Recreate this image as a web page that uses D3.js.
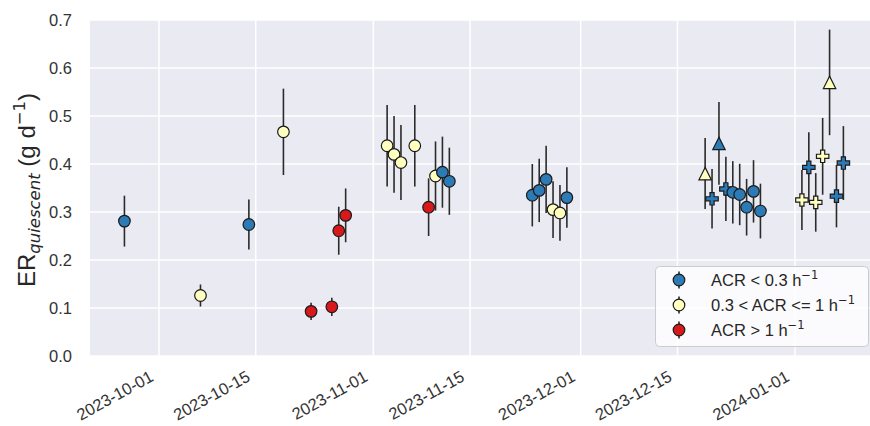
<!DOCTYPE html>
<html>
<head>
<meta charset="utf-8">
<script src="https://cdn.jsdelivr.net/npm/d3@7"></script>
<style>
  html, body { margin: 0; padding: 0; background: #fff; }
  svg { display: block; font-family: "Liberation Sans", Arial, sans-serif; }
</style>
</head>
<body>
<svg id="chart" width="870" height="426"></svg>
<script>
// ---------- data ----------
// ACR < 0.3 h^-1
const lowDates  = ["2023-09-26","2023-10-14","2023-11-11","2023-11-12","2023-11-24","2023-11-25","2023-11-26","2023-11-29",
                   "2023-12-20","2023-12-21","2023-12-22","2023-12-23","2023-12-24","2023-12-25","2023-12-26","2023-12-27",
                   "2024-01-03","2024-01-07","2024-01-08"];
const lowValues = [0.281,0.274,0.383,0.364,0.335,0.345,0.368,0.330,
                   0.3275,0.443,0.348,0.341,0.3365,0.310,0.343,0.302,
                   0.393,0.333,0.402];
const lowErrors = [0.053,0.052,0.074,0.070,0.065,0.066,0.070,0.063,
                   0.062,0.086,0.067,0.065,0.064,0.059,0.065,0.057,
                   0.073,0.065,0.077];
const lowShapes = ["o","o","o","o","o","o","o","o",
                   "P","^","P","o","o","o","o","o",
                   "P","P","P"];
// 0.3 < ACR <= 1 h^-1
const midDates  = ["2023-10-07","2023-10-19","2023-11-03","2023-11-04","2023-11-05","2023-11-07","2023-11-10","2023-11-27","2023-11-28",
                   "2023-12-19","2024-01-02","2024-01-04","2024-01-05","2024-01-06"];
const midValues = [0.126,0.467,0.438,0.420,0.403,0.438,0.375,0.305,0.298,
                   0.380,0.325,0.320,0.416,0.570];
const midErrors = [0.023,0.090,0.085,0.080,0.078,0.085,0.072,0.059,0.058,
                   0.074,0.0625,0.061,0.080,0.110];
const midShapes = ["o","o","o","o","o","o","o","o","o",
                   "^","P","P","P","^"];
// ACR > 1 h^-1
const highDates  = ["2023-10-23","2023-10-26","2023-10-27","2023-10-28","2023-11-09"];
const highValues = [0.093,0.1025,0.261,0.293,0.310];
const highErrors = [0.018,0.019,0.050,0.056,0.060];
const highShapes = ["o","o","o","o","o"];

const seriesNames  = ["ACR < 0.3 h", "0.3 < ACR <= 1 h", "ACR > 1 h"];
const seriesColors = ["#2c7bb6", "#ffffbf", "#d7191c"];

const xTickDates = ["2023-10-01","2023-10-15","2023-11-01","2023-11-15","2023-12-01","2023-12-15","2024-01-01"];
const yTickValues = [0, 0.1, 0.2, 0.3, 0.4, 0.5, 0.6, 0.7];

// ---------- layout ----------
const svg = d3.select("#chart");
const plot = {left: 90, right: 870, top: 20, bottom: 356};
const parse = d3.utcParse("%Y-%m-%d");

const x = d3.scaleUtc()
  .domain([parse("2023-10-01"), parse("2024-01-01")])
  .range([159, 795]);
const y = d3.scaleLinear().domain([0, 0.7]).range([plot.bottom, plot.top]);

// background
svg.append("rect")
  .attr("x", plot.left).attr("y", plot.top)
  .attr("width", plot.right - plot.left).attr("height", plot.bottom - plot.top)
  .attr("fill", "#eaeaf2");

// grid
const grid = svg.append("g").attr("stroke", "#fff").attr("stroke-width", 1.5);
grid.selectAll("line.gy").data(yTickValues).join("line")
  .attr("x1", plot.left).attr("x2", plot.right)
  .attr("y1", d => y(d)).attr("y2", d => y(d));
grid.selectAll("line.gx").data(xTickDates).join("line")
  .attr("y1", plot.top).attr("y2", plot.bottom)
  .attr("x1", d => x(parse(d))).attr("x2", d => x(parse(d)));

// y axis
const yAxis = svg.append("g")
  .attr("transform", `translate(${plot.left},0)`)
  .call(d3.axisLeft(y).tickValues(yTickValues).tickFormat(d3.format(".1f")).tickSize(0).tickPadding(18));
yAxis.select(".domain").remove();
yAxis.selectAll("text").attr("font-size", 16.5).attr("fill", "#333")
  .attr("font-family", "Liberation Sans, Arial, sans-serif");

// x axis
const xAxis = svg.append("g")
  .attr("transform", `translate(0,${plot.bottom})`)
  .call(d3.axisBottom(x).tickValues(xTickDates.map(parse)).tickFormat(d3.utcFormat("%Y-%m-%d")).tickSize(0));
xAxis.select(".domain").remove();
xAxis.selectAll("text")
  .attr("font-size", 16.5).attr("fill", "#333")
  .attr("font-family", "Liberation Sans, Arial, sans-serif")
  .attr("text-anchor", "end")
  .attr("dy", null)
  .attr("y", 0)
  .attr("transform", "translate(-5,24) rotate(-29)");

// y label
const yl = svg.append("text")
  .attr("transform", "translate(35,190) rotate(-90)")
  .attr("text-anchor", "middle")
  .attr("font-size", 24).attr("fill", "#262626");
yl.append("tspan").text("ER");
yl.append("tspan").attr("font-family", "DejaVu Sans").attr("font-style", "italic")
  .attr("font-size", 16.5).attr("dy", 5).text("quiescent");
yl.append("tspan").attr("dy", -5).text(" (g d");
yl.append("tspan").attr("font-family", "DejaVu Sans").attr("font-size", 16.5).attr("dy", -10).text("\u22121");
yl.append("tspan").attr("dy", 10).text(")");

// marker shapes
const half = 6.2;
function shapePath(s) {
  if (s === "^") return `M0,${-half}L${-half},${half}L${half},${half}Z`;
  if (s === "P") {
    const a = half, b = half / 3;
    return `M${-b},${-a}H${b}V${-b}H${a}V${b}H${b}V${a}H${-b}V${b}H${-a}V${-b}H${-b}Z`;
  }
  return null;
}

// points
const groups = [
  {dates: lowDates,  values: lowValues,  errors: lowErrors,  shapes: lowShapes,  color: seriesColors[0]},
  {dates: midDates,  values: midValues,  errors: midErrors,  shapes: midShapes,  color: seriesColors[1]},
  {dates: highDates, values: highValues, errors: highErrors, shapes: highShapes, color: seriesColors[2]}
];
const pts = [];
groups.forEach(g => g.dates.forEach((d, i) => pts.push({
  date: parse(d), v: g.values[i], e: g.errors[i], s: g.shapes[i], color: g.color
})));
pts.sort((a, b) => a.date - b.date);

const pg = svg.append("g");
pts.forEach(p => {
  const cx = x(p.date), cy = y(p.v);
  pg.append("line")
    .attr("x1", cx).attr("x2", cx)
    .attr("y1", y(p.v + p.e)).attr("y2", y(p.v - p.e))
    .attr("stroke", "#2b2b2b").attr("stroke-width", 1.6);
  if (p.s === "o") {
    pg.append("circle").attr("cx", cx).attr("cy", cy).attr("r", 5.8)
      .attr("fill", p.color).attr("stroke", "#1a1a1a").attr("stroke-width", 1.2);
  } else {
    pg.append("path").attr("d", shapePath(p.s))
      .attr("transform", `translate(${cx},${cy})`)
      .attr("fill", p.color).attr("stroke", "#1a1a1a").attr("stroke-width", 1.2)
      .attr("stroke-linejoin", "miter");
  }
});

// legend
const lg = svg.append("g");
lg.append("rect")
  .attr("x", 655.5).attr("y", 266.5).attr("width", 213).attr("height", 80).attr("rx", 4)
  .attr("fill", "#ffffff").attr("fill-opacity", 0.8)
  .attr("stroke", "#cccccc").attr("stroke-width", 1);
seriesNames.forEach((name, i) => {
  const cy = 280 + i * 25;
  lg.append("line").attr("x1", 679).attr("x2", 679).attr("y1", cy - 8.5).attr("y2", cy + 8.5)
    .attr("stroke", "#2b2b2b").attr("stroke-width", 1.6);
  lg.append("circle").attr("cx", 679).attr("cy", cy).attr("r", 5.8)
    .attr("fill", seriesColors[i]).attr("stroke", "#1a1a1a").attr("stroke-width", 1.2);
  const t = lg.append("text").attr("x", 711).attr("y", cy + 6)
    .attr("font-size", 16.5).attr("fill", "#262626");
  t.append("tspan").text(name);
  t.append("tspan").attr("font-family", "DejaVu Sans").attr("font-size", 11.5).attr("dy", -7).text("\u22121");
});
</script>
</body>
</html>
